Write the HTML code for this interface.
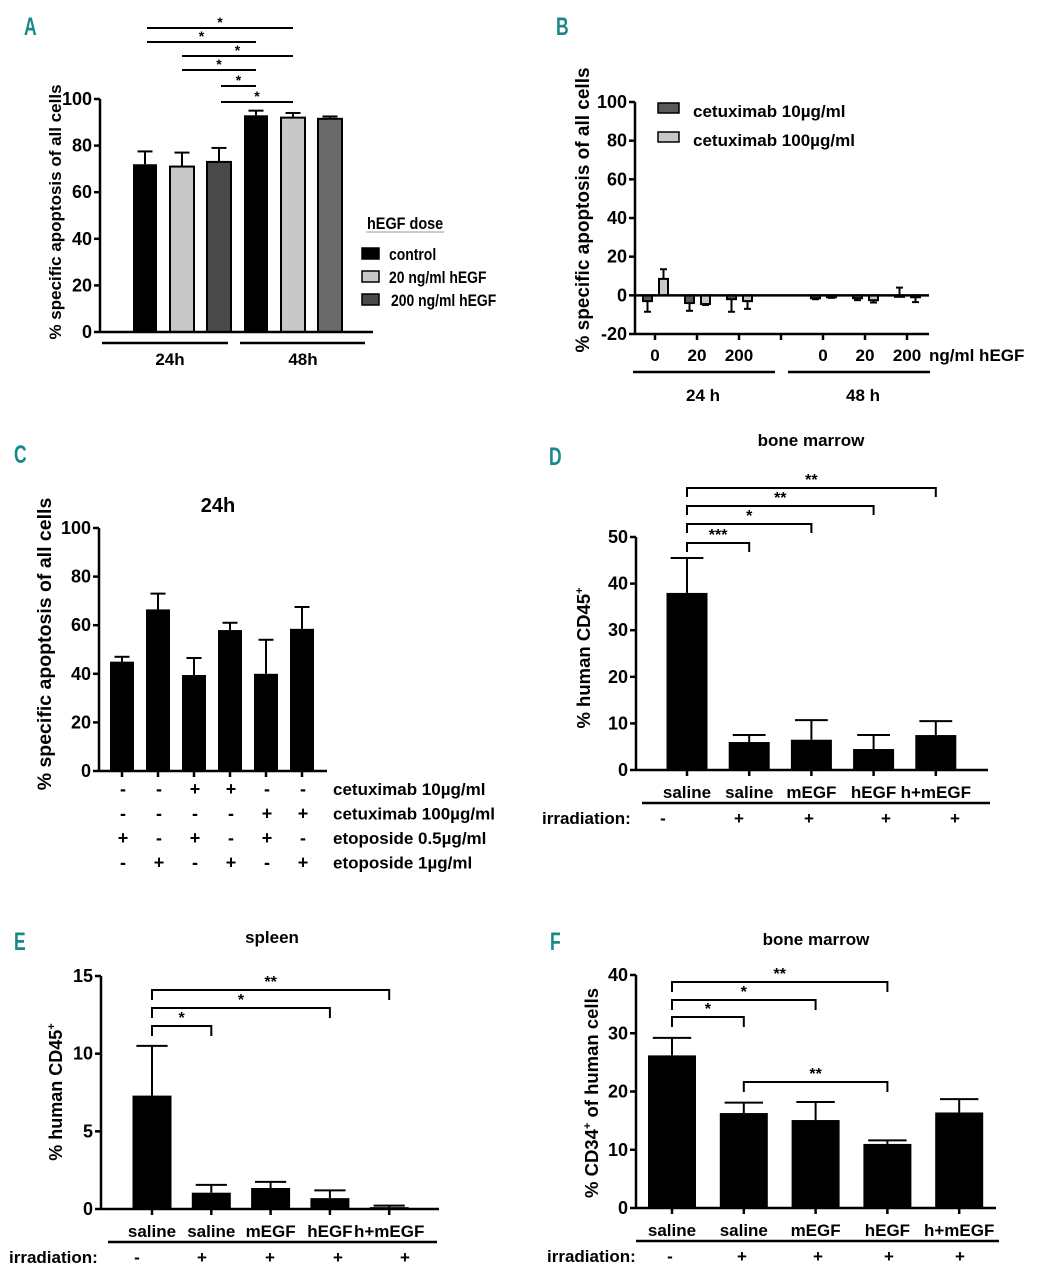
<!DOCTYPE html>
<html><head><meta charset="utf-8">
<style>
html,body{margin:0;padding:0;background:#fff;}
svg{display:block;font-family:"Liberation Sans",Arial,sans-serif;font-weight:bold;}
</style></head>
<body>
<svg id="fig" width="1040" height="1280" viewBox="0 0 1040 1280" xmlns="http://www.w3.org/2000/svg"></svg>
<script>
// ---------- DATA ----------
const A_categories=['24h control','24h 20 ng/ml','24h 200 ng/ml','48h control','48h 20 ng/ml','48h 200 ng/ml'];
const A_values=[72,71,73,93,92,91.5];
const A_errors=[5.5,6,6,2,2,1];
const A_ticks=[0,20,40,60,80,100];
const A_legend=['control','20 ng/ml hEGF','200 ng/ml hEGF'];

const B_doses=['0','20','200','0','20','200'];
const B_cet10=[-3,-4,-2,-1.5,-1.5,0];
const B_cet10_err=[5.5,4,6.5,0.5,1,4];
const B_cet100=[8.5,-4.5,-3,-1,-2.5,-1];
const B_cet100_err=[5,0.5,4,0.3,1.2,2.5];
const B_ticks=[-20,0,20,40,60,80,100];
const B_legend=['cetuximab 10\u00b5g/ml','cetuximab 100\u00b5g/ml'];

const C_values=[45,66.5,39.5,58,40,58.5];
const C_errors=[2,6.5,7,3,14,9];
const C_ticks=[0,20,40,60,80,100];
const C_rowLabels=['cetuximab 10\u00b5g/ml','cetuximab 100\u00b5g/ml','etoposide 0.5\u00b5g/ml','etoposide 1\u00b5g/ml'];
const C_signs=[['-','-','+','+','-','-'],['-','-','-','-','+','+'],['+','-','+','-','+','-'],['-','+','-','+','-','+']];

const D_categories=['saline','saline','mEGF','hEGF','h+mEGF'];
const D_values=[38,6,6.5,4.5,7.5];
const D_errors=[7.5,1.5,4.2,3,3];
const D_ticks=[0,10,20,30,40,50];
const D_irr=['-','+','+','+','+'];

const E_categories=['saline','saline','mEGF','hEGF','h+mEGF'];
const E_values=[7.3,1.05,1.35,0.7,0.12];
const E_errors=[3.2,0.5,0.4,0.5,0.1];
const E_ticks=[0,5,10,15];
const E_irr=['-','+','+','+','+'];

const F_categories=['saline','saline','mEGF','hEGF','h+mEGF'];
const F_values=[26.2,16.3,15.1,11,16.4];
const F_errors=[3,1.8,3.1,0.6,2.3];
const F_ticks=[0,10,20,30,40];
const F_irr=['-','+','+','+','+'];

// ---------- HELPERS ----------
const svg=document.getElementById('fig');
const NS='http://www.w3.org/2000/svg';
function mk(tag,attrs,parent){const e=document.createElementNS(NS,tag);for(const k in attrs)e.setAttribute(k,attrs[k]);(parent||svg).appendChild(e);return e;}
function txt(s,attrs,parent){const e=mk('text',attrs,parent);e.textContent=s;return e;}
function lin(v,v0,v1,p0,p1){return p0+(v-v0)*(p1-p0)/(v1-v0);}

function yAxis(g,ax,ticks,vMin,vMax,yMin,yMax,fs){
  const l=mk('line',{x1:ax,y1:lin(vMin,vMin,vMax,yMin,yMax),x2:ax,y2:lin(vMax,vMin,vMax,yMin,yMax),stroke:'#000','stroke-width':2.5},g);
  
  
  ticks.forEach(t=>{
    const y=lin(t,vMin,vMax,yMin,yMax);
    const tk=mk('line',{x1:ax-6,y1:y,x2:ax,y2:y,stroke:'#000','stroke-width':2.5},g);
    
    
    const lb=txt(String(t),{x:ax-8,y:y+6,'text-anchor':'end','font-size':fs||17},g);
    
    
  });
}
function bar(g,cx,w,v,vMin,vMax,yMin,yMax,fill,name){
  const y0=lin(0,vMin,vMax,yMin,yMax),y1=lin(v,vMin,vMax,yMin,yMax);
  const r=mk('rect',{x:cx-w/2,y:Math.min(y0,y1),width:w,height:Math.max(1.5,Math.abs(y1-y0)),fill:fill,stroke:'#000','stroke-width':fill==='#000'?0:2},g);
  
  
}
function errbar(g,cx,cap,v,e,vMin,vMax,yMin,yMax,name){
  const dir=v<0?-1:1;
  const ya=lin(v,vMin,vMax,yMin,yMax),yb=lin(v+dir*e,vMin,vMax,yMin,yMax);
  const eg=mk('g',{},g);
  
  
  mk('line',{x1:cx,y1:ya,x2:cx,y2:yb,stroke:'#000','stroke-width':2},eg);
  mk('line',{x1:cx-cap/2,y1:yb,x2:cx+cap/2,y2:yb,stroke:'#000','stroke-width':2},eg);
}
function bracket(g,x1,x2,y,drop,label,name){
  const b=mk('g',{},g);
  
  
  mk('path',{d:`M${x1},${y+drop}V${y}H${x2}V${y+drop}`,fill:'none',stroke:'#000','stroke-width':2},b);
  txt(label,{x:(x1+x2)/2,y:y-3,'text-anchor':'middle','font-size':16},b);
}
function panelLetter(s,x,y){
  const t=txt(s,{x:x,y:y,'font-size':25,fill:'#17898a','font-weight':'bold',transform:`translate(${x},${y}) scale(0.7,1) translate(${-x},${-y})`});
  
  
}
function yTitle(g,s,x,y,fs){
  const t=txt(s,{x:0,y:0,'text-anchor':'middle','font-size':fs||16,transform:`translate(${x},${y}) rotate(-90)`},g);
  
  
  return t;
}

// ---------- PANEL A ----------
(function(){
  const g=mk('g',{});
  
  
  panelLetter('A',24,35);
  const vMin=0,vMax=100,yMin=332,yMax=99,ax=100;
  const xb=i=>145+i*37;
  const fills=['#000','#c8c8c8','#4a4a4a','#000','#c8c8c8','#6a6a6a'];
  A_values.forEach((v,i)=>{
    bar(g,xb(i),24,v,vMin,vMax,yMin,yMax,fills[i],'bar-a-'+i);
    errbar(g,xb(i),15,v,A_errors[i],vMin,vMax,yMin,yMax,'error-bar-a-'+i);
  });
  yAxis(g,ax,A_ticks,vMin,vMax,yMin,yMax,18);
  const xl=mk('line',{x1:ax,y1:yMin,x2:373,y2:yMin,stroke:'#000','stroke-width':2.5},g);
  
  
  yTitle(g,'% specific apoptosis of all cells',61,212,17);
  [[102,228,'24h',170],[240,365,'48h',303]].forEach((s,i)=>{
    const l=mk('line',{x1:s[0],y1:343,x2:s[1],y2:343,stroke:'#000','stroke-width':2.5},g);
    
    
    const t=txt(s[2],{x:s[3],y:365,'text-anchor':'middle','font-size':17},g);
    
    
  });
  const sig=[[0,4,28],[0,3,42],[1,4,56],[1,3,70],[2,3,86],[2,4,102]];
  sig.forEach((s,i)=>{
    const b=mk('g',{},g);
    
    
    const x1=s[0]===0?147:(s[0]===1?182:221), x2=s[1]===4?293:256;
    mk('line',{x1:x1,y1:s[2],x2:x2,y2:s[2],stroke:'#000','stroke-width':2},b);
    txt('*',{x:(x1+x2)/2,y:s[2]-1,'text-anchor':'middle','font-size':14},b);
  });
  const lg=mk('g',{},g);
  
  
  const lt=txt('hEGF dose',{x:367,y:229,'font-size':17,transform:'translate(367,229) scale(0.85,1) translate(-367,-229)'},lg);
  
  
  mk('line',{x1:366,y1:232,x2:444,y2:232,stroke:'#999','stroke-width':1},lg);
  const lf=['#000','#c8c8c8','#4a4a4a'];
  A_legend.forEach((s,i)=>{
    const e=mk('g',{},lg);
    
    
    mk('rect',{x:362,y:248+i*23,width:17,height:11,fill:lf[i],stroke:'#000','stroke-width':1.5},e);
    const xx=389+(i===2?2:0), yy=260+i*23;
    txt(s,{x:xx,y:yy,'font-size':17,transform:`translate(${xx},${yy}) scale(0.82,1) translate(${-xx},${-yy})`},e);
  });
})();

// ---------- PANEL B ----------
(function(){
  const g=mk('g',{});
  
  
  panelLetter('B',556,35);
  const vMin=-20,vMax=100,yMin=334,yMax=102,ax=635;
  const slot=i=>655+(i<3?i:i+1)*42;
  B_cet10.forEach((v,i)=>{
    bar(g,slot(i)-7.5,9,v,vMin,vMax,yMin,yMax,'#5a5a5a','bar-b-cet10-'+i);
    errbar(g,slot(i)-7.5,7,v,B_cet10_err[i],vMin,vMax,yMin,yMax,'error-bar-b-cet10-'+i);
  });
  B_cet100.forEach((v,i)=>{
    bar(g,slot(i)+8.5,9,v,vMin,vMax,yMin,yMax,'#c8c8c8','bar-b-cet100-'+i);
    errbar(g,slot(i)+8.5,7,v,B_cet100_err[i],vMin,vMax,yMin,yMax,'error-bar-b-cet100-'+i);
  });
  yAxis(g,ax,B_ticks,vMin,vMax,yMin,yMax,18);
  const y0=lin(0,vMin,vMax,yMin,yMax);
  const zl=mk('line',{x1:ax,y1:y0,x2:929,y2:y0,stroke:'#000','stroke-width':2.5},g);
  
  
  const xl=mk('line',{x1:ax,y1:yMin,x2:929,y2:yMin,stroke:'#000','stroke-width':2.5},g);
  
  
  for(let k=0;k<7;k++){
    const x=655+k*42;
    const t=mk('line',{x1:x,y1:yMin,x2:x,y2:yMin+6,stroke:'#000','stroke-width':2.5},g);
    
    
  }
  B_doses.forEach((s,i)=>{
    const t=txt(s,{x:slot(i),y:361,'text-anchor':'middle','font-size':17},g);
    
    
  });
  const u=txt('ng/ml hEGF',{x:929,y:361,'font-size':17},g);
  
  
  [[633,775,'24 h',703],[788,930,'48 h',863]].forEach(s=>{
    const l=mk('line',{x1:s[0],y1:372,x2:s[1],y2:372,stroke:'#000','stroke-width':2.5},g);
    
    
    const t=txt(s[2],{x:s[3],y:401,'text-anchor':'middle','font-size':17},g);
    
    
  });
  yTitle(g,'% specific apoptosis of all cells',589,210,19);
  const lf=['#5a5a5a','#c8c8c8'];
  B_legend.forEach((s,i)=>{
    const e=mk('g',{},g);
    
    
    mk('rect',{x:658,y:103+i*29,width:21,height:10,fill:lf[i],stroke:'#000','stroke-width':1.5},e);
    txt(s,{x:693,y:117+i*29,'font-size':17},e);
  });
})();

// ---------- PANEL C ----------
(function(){
  const g=mk('g',{});
  
  
  panelLetter('C',14,463);
  const vMin=0,vMax=100,yMin=771,yMax=528,ax=99;
  const xb=i=>122+i*36;
  C_values.forEach((v,i)=>{
    bar(g,xb(i),24,v,vMin,vMax,yMin,yMax,'#000','bar-c-'+i);
    errbar(g,xb(i),15,v,C_errors[i],vMin,vMax,yMin,yMax,'error-bar-c-'+i);
  });
  yAxis(g,ax,C_ticks,vMin,vMax,yMin,yMax,18);
  const xl=mk('line',{x1:ax,y1:yMin,x2:327,y2:yMin,stroke:'#000','stroke-width':2.5},g);
  
  
  C_values.forEach((v,i)=>{
    const t=mk('line',{x1:xb(i),y1:yMin,x2:xb(i),y2:yMin+6,stroke:'#000','stroke-width':2.5},g);
    
    
  });
  const tt=txt('24h',{x:218,y:512,'text-anchor':'middle','font-size':20},g);
  
  
  yTitle(g,'% specific apoptosis of all cells',51,644,19.5);
  C_rowLabels.forEach((s,r)=>{
    const y=795+r*24.5;
    C_signs[r].forEach((sg,i)=>{
      const t=txt(sg,{x:xb(i)+1,y:y,'text-anchor':'middle','font-size':18},g);
      
      
    });
    const t=txt(s,{x:333,y:y,'font-size':17},g);
    
    
  });
})();

// ---------- PANELS D, E, F ----------
function irrChart(o){
  const g=mk('g',{});
  
  
  panelLetter(o.letter,o.lx,o.ly);
  const xb=i=>o.x0+i*o.step;
  o.values.forEach((v,i)=>{
    bar(g,xb(i),o.bw,v,o.vMin,o.vMax,o.yMin,o.yMax,'#000','bar-'+o.letter.toLowerCase()+'-'+i);
    errbar(g,xb(i),o.bw*0.8,v,o.errors[i],o.vMin,o.vMax,o.yMin,o.yMax,'error-bar-'+o.letter.toLowerCase()+'-'+i);
  });
  yAxis(g,o.ax,o.ticks,o.vMin,o.vMax,o.yMin,o.yMax,18);
  const xl=mk('line',{x1:o.ax,y1:o.yMin,x2:o.xEnd,y2:o.yMin,stroke:'#000','stroke-width':2.5},g);
  
  
  o.categories.forEach((c,i)=>{
    const t=mk('line',{x1:xb(i),y1:o.yMin,x2:xb(i),y2:o.yMin+6,stroke:'#000','stroke-width':2.5},g);
    
    
    const l=txt(c,{x:xb(i),y:o.yMin+28,'text-anchor':'middle','font-size':17},g);
    
    
    const s=txt(o.irr[i],{x:o.irrX(i),y:o.yMin+54,'text-anchor':'middle','font-size':17},g);
    
    
  });
  const gl=mk('line',{x1:o.glx1,y1:o.yMin+33,x2:o.glx2,y2:o.yMin+33,stroke:'#000','stroke-width':2.5},g);
  
  
  const il=txt('irradiation:',{x:o.irrLabelX,y:o.yMin+54,'font-size':17},g);
  
  
  const tt=txt(o.title,{x:o.tx,y:o.ty,'text-anchor':'middle','font-size':17},g);
  
  
  const yt=yTitle(g,'',o.ytx,o.yty,o.yfs);
  yt.textContent=o.ytitle;
  const sup=document.createElementNS(NS,'tspan');
  sup.setAttribute('font-size',11);
  sup.setAttribute('dy',-7);
  sup.textContent='+';
  yt.appendChild(sup);
  if(o.ytail){const t2=document.createElementNS(NS,'tspan');t2.setAttribute('dy',7);t2.textContent=o.ytail;yt.appendChild(t2);}
  o.brackets.forEach((b,k)=>bracket(g,xb(b[0]),xb(b[1]),b[2],b[3],b[4],'significance-bracket-'+o.letter.toLowerCase()+'-'+k));
}
irrChart({name:'panel-d',letter:'D',lx:549,ly:465,categories:D_categories,values:D_values,errors:D_errors,ticks:D_ticks,irr:D_irr,
  vMin:0,vMax:50,yMin:770,yMax:537,ax:636,x0:687,step:62.2,bw:41,xEnd:988,
  irrX:i=>[663,739,809,886,955][i],glx1:642,glx2:990,irrLabelX:542,
  title:'bone marrow',tx:811,ty:446,ytitle:'% human CD45',ytx:590,yty:658,yfs:18.5,
  brackets:[[0,1,543,9,'***'],[0,2,524,9,'*'],[0,3,506,9,'**'],[0,4,488,9,'**']]});
irrChart({name:'panel-e',letter:'E',lx:14,ly:950,categories:E_categories,values:E_values,errors:E_errors,ticks:E_ticks,irr:E_irr,
  vMin:0,vMax:15,yMin:1209,yMax:976,ax:101,x0:152,step:59.3,bw:39,xEnd:439,
  irrX:i=>[137,202,270,338,405][i],glx1:108,glx2:437,irrLabelX:9,
  title:'spleen',tx:272,ty:943,ytitle:'% human CD45',ytx:62,yty:1092,yfs:18,
  brackets:[[0,1,1026,10,'*'],[0,3,1008,10,'*'],[0,4,990,10,'**']]});
irrChart({name:'panel-f',letter:'F',lx:550,ly:950,categories:F_categories,values:F_values,errors:F_errors,ticks:F_ticks,irr:F_irr,
  vMin:0,vMax:40,yMin:1208,yMax:975,ax:636,x0:672,step:71.8,bw:48,xEnd:996,
  irrX:i=>[670,742,818,889,960][i],glx1:636,glx2:999,irrLabelX:547,
  title:'bone marrow',tx:816,ty:945,ytitle:'% CD34',ytail:' of human cells',ytx:598,yty:1093,yfs:18.5,
  brackets:[[0,1,1017,10,'*'],[0,2,1000,10,'*'],[0,3,982,10,'**'],[1,3,1082,10,'**']]});
</script>
</body></html>
